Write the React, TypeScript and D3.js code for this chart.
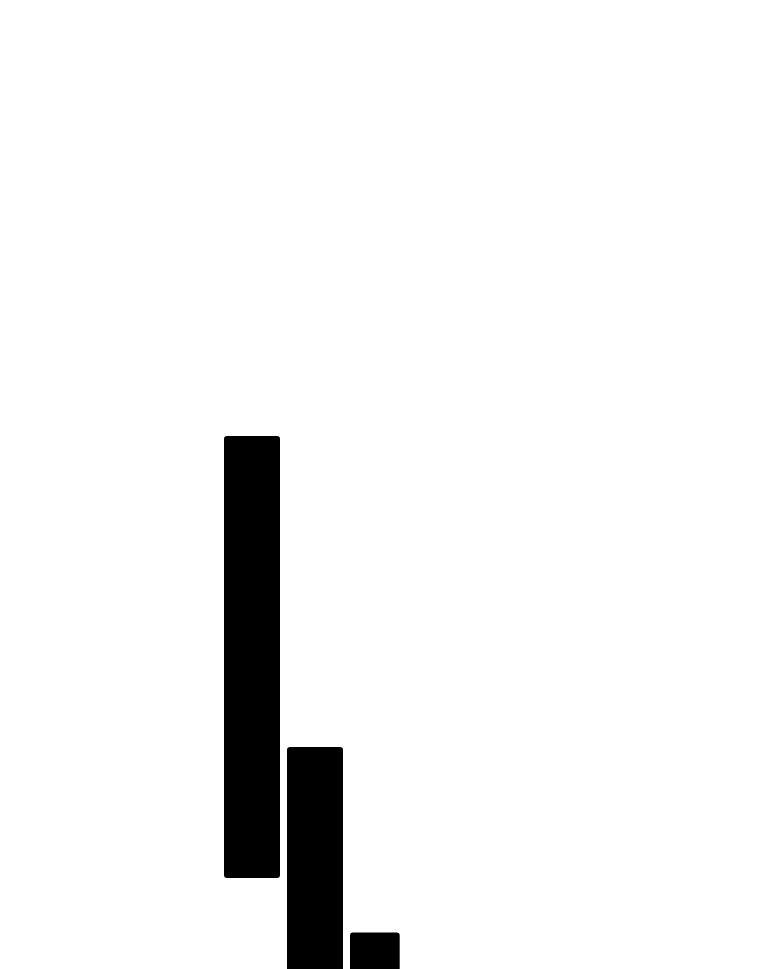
import * as d3 from "d3";
import { useEffect, useRef } from "react";

// bins along x (start, end) and floating value ranges (low, high)
const binStart = [0, 10, 20];
const binEnd = [10, 20, 29];
const lowValues = [122, 0, 0];
const highValues = [564, 253, 67.5];

export default function App() {
    const ref = useRef(null);
    const width = 760,
        height = 969;

    useEffect(() => {
        const svg = d3.select(ref.current);
        svg.selectAll("*").remove();

        const x = d3.scaleLinear().domain([0, 29]).range([224, 224 + 29 * 6.3]);
        const y = d3.scaleLinear().domain([0, 600]).range([1000, 400]);
        const inset = 7;

        const data = binStart.map((s, i) => ({
            x0: s,
            x1: binEnd[i],
            lo: lowValues[i],
            hi: highValues[i],
        }));

        svg
            .append("g")
            .selectAll("rect")
            .data(data)
            .join("rect")
            .attr("x", (d) => x(d.x0))
            .attr("width", (d) => x(d.x1) - x(d.x0) - inset)
            .attr("y", (d) => y(d.hi))
            .attr("height", (d) => y(d.lo) - y(d.hi))
            .attr("rx", 3)
            .attr("ry", 3)
            .attr("fill", "#000");
    }, []);

    return (
        <svg
            ref={ref}
            width={width}
            height={height}
            style={{ position: "absolute", left: 0, top: 0, display: "block", background: "#fff" }}
        ></svg>
    );
}
